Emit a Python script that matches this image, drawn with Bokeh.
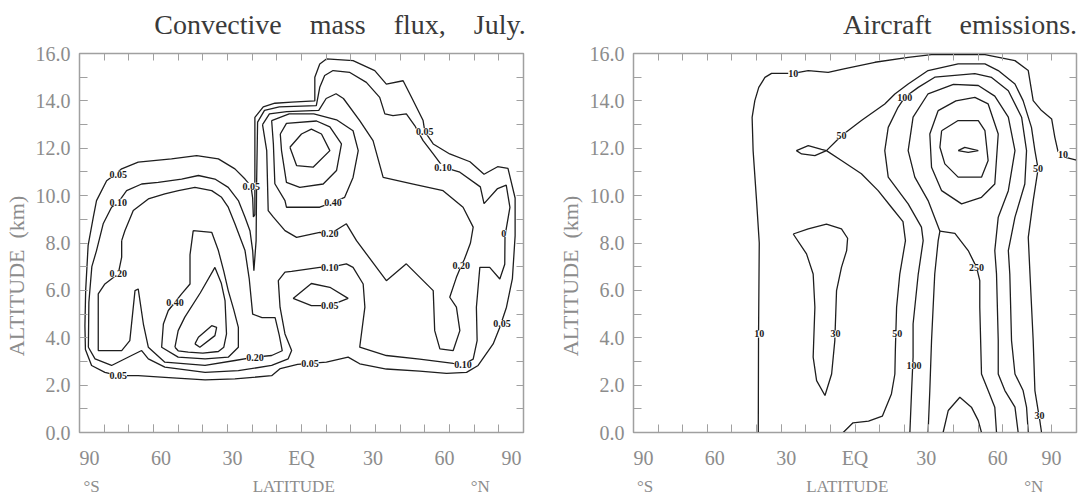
import math
from bokeh.plotting import figure
from bokeh.models import (ColumnDataSource, FixedTicker, LinearAxis, LabelSet, Range1d)
from bokeh.layouts import row
from bokeh.embed import file_html
from bokeh.resources import INLINE

NB = "\u00a0"

# ---------------- axes ----------------
X_MAJOR = [-90, -60, -30, 0, 30, 60, 90]
X_LABELS = ["90", "60", "30", "EQ", "30", "60", "90"]
X_MINOR = list(range(-90, 91, 10))
Y_MAJOR = [0, 2, 4, 6, 8, 10, 12, 14, 16]
Y_LABELS = ["0.0", "2.0", "4.0", "6.0", "8.0", "10.0", "12.0", "14.0", "16.0"]
Y_MINOR = list(range(0, 17))
# labels near the frame ends sit a little inward, as in the original plotter output
X_LABEL_PAD_LEFT = [4, 3, 2, 0, 0, 0, 0]
X_LABEL_PAD_RIGHT = [0, 0, 0, 0, 1, 2, 4]

TITLE_LEFT = "Convective" + NB * 4 + "mass" + NB * 4 + "flux," + NB * 4 + "July."
TITLE_RIGHT = "Aircraft" + NB * 4 + "emissions."
Y_TITLE = "ALTITUDE" + NB * 2 + "(km)" + NB * 12
X_TITLE = "\u00b0S" + NB * 36 + "LATITUDE" + NB * 32 + "\u00b0N" + NB * 7

# ---------------- convective mass flux contours (lat, km) ----------------
MF_005 = [[-86.5, 7.9], [-87.5, 6.0], [-87.8, 4.5], [-87.6, 3.5], [-85.1, 2.83], [-79.7, 2.54],
          [-74.3, 2.4], [-66.2, 2.4], [-55.4, 2.33], [-39.1, 2.22], [-27.0, 2.26], [-12.1, 2.4],
          [-8.6, 2.7], [-1.6, 2.88], [3.4, 2.92], [10.1, 2.97], [18.9, 3.18], [23.6, 2.9],
          [34.4, 2.68], [47.9, 2.59], [58.8, 2.5], [66.9, 2.54], [71.6, 2.83], [77.7, 3.74],
          [80.4, 4.44], [83.1, 5.29], [85.5, 6.5], [86.6, 8.3], [86.6, 9.9], [83.7, 11.15],
          [79.5, 11.22], [74.0, 10.9], [68.3, 11.43], [60.1, 11.76], [53.4, 12.18], [50.0, 12.7],
          [49.3, 13.17], [44.6, 14.15], [41.2, 14.85], [34.4, 14.71], [29.7, 15.28], [20.9, 15.7],
          [10.1, 15.77], [7.4, 15.56], [5.4, 15.0], [5.4, 14.0], [-4.0, 13.95], [-10.8, 13.9],
          [-15.5, 13.75], [-18.9, 13.3], [-18.9, 9.2], [-19.5, 9.1], [-19.8, 9.9], [-20.5, 10.4],
          [-22.9, 10.7], [-27.0, 11.13], [-33.7, 11.55], [-42.5, 11.69], [-52.7, 11.55],
          [-66.2, 11.41], [-72.9, 11.13], [-75.5, 10.9], [-79.0, 10.63], [-83.1, 9.79],
          [-84.4, 9.09], [-86.5, 7.9]]
MF_010 = [[-86.4, 3.6], [-86.2, 5.5], [-85.0, 7.0], [-83.1, 7.68], [-80.4, 8.81], [-77.0, 9.51],
          [-74.3, 9.72], [-70.9, 10.21], [-64.8, 10.49], [-58.1, 10.56], [-48.6, 10.7],
          [-41.8, 10.85], [-35.1, 10.7], [-29.7, 10.35], [-25.6, 9.79], [-22.9, 9.09],
          [-20.9, 8.52], [-19.8, 7.68], [-19.3, 6.83], [-18.4, 8.1], [-18.2, 10.5], [-17.8, 13.1],
          [-15.0, 13.6], [-9.0, 13.75], [6.0, 13.8], [7.4, 14.57], [9.4, 15.07], [12.8, 15.28],
          [19.6, 15.2], [26.3, 14.78], [31.7, 14.15], [33.8, 13.45], [37.1, 13.38], [42.5, 13.45],
          [45.9, 12.96], [49.3, 12.32], [53.4, 11.76], [57.4, 11.2], [64.2, 10.99], [72.5, 10.37],
          [74.0, 9.66], [79.5, 10.3], [83.0, 10.44], [84.5, 9.5], [82.5, 8.3], [82.4, 7.1],
          [80.4, 6.48], [76.3, 6.97], [72.3, 6.97], [70.9, 5.29], [71.2, 3.88], [69.6, 3.1],
          [65.5, 2.87], [61.5, 2.92], [47.9, 3.1], [34.4, 3.25], [23.6, 3.6], [25.7, 5.29],
          [25.0, 6.27], [20.9, 6.97], [18.2, 7.12], [11.5, 6.97], [7.4, 6.97], [-4.0, 6.8],
          [-6.7, 6.77], [-9.4, 6.41], [-8.7, 5.29], [-6.7, 4.16], [-4.0, 3.46], [-5.4, 3.11],
          [-12.1, 2.83], [-25.6, 2.61], [-39.1, 2.54], [-55.4, 2.76], [-62.1, 3.11],
          [-64.8, 3.46], [-68.9, 3.25], [-77.0, 2.83], [-83.7, 3.11], [-86.4, 3.6]]
MF_005_OVAL = [[-3.4, 5.66], [4.0, 6.29], [11.5, 6.13], [18.9, 5.66], [11.5, 5.36], [4.0, 5.36],
               [-3.4, 5.66]]
MF_020_S = [[-72.9, 8.1], [-71.6, 8.52], [-68.2, 9.37], [-62.1, 9.86], [-55.4, 10.07],
            [-49.9, 10.21], [-43.2, 10.35], [-36.4, 10.21], [-32.4, 9.93], [-29.7, 9.51],
            [-27.0, 8.81], [-22.9, 7.68], [-21.2, 6.5], [-19.8, 5.0], [-16.0, 4.85], [-10.7, 4.85],
            [-9.0, 4.1], [-7.8, 3.45], [-12.1, 3.25], [-18.9, 3.18], [-27.0, 3.04], [-39.1, 2.83],
            [-55.4, 2.97], [-62.1, 3.6], [-64.1, 4.58], [-66.2, 6.06], [-67.5, 5.99],
            [-69.6, 3.88], [-72.9, 3.46], [-82.4, 3.46], [-82.4, 5.85], [-79.7, 6.27],
            [-74.3, 6.7], [-72.9, 7.4], [-72.9, 8.1]]
MF_020_N = [[-15.8, 13.0], [-13.0, 13.45], [-6.0, 13.55], [7.0, 13.6], [10.0, 14.1], [14.0, 14.3],
            [17.0, 14.1], [23.6, 13.17], [29.0, 12.32], [33.1, 10.77], [45.3, 10.49],
            [57.4, 10.21], [65.5, 9.51], [69.6, 8.67], [68.5, 8.0], [66.0, 7.3], [64.8, 7.05],
            [62.8, 6.55], [60.1, 5.71], [62.8, 5.29], [64.2, 4.3], [61.5, 3.46], [56.1, 3.53],
            [54.0, 4.3], [53.4, 5.99], [42.5, 7.12], [34.4, 6.41], [22.3, 8.1], [18.2, 8.81],
            [11.5, 8.38], [7.4, 8.45], [-2.0, 8.24], [-6.7, 8.52], [-11.4, 9.09], [-13.5, 9.37],
            [-14.1, 11.9], [-15.8, 13.0]]
MF_040_S = [[-43.9, 8.52], [-36.4, 8.45], [-33.7, 7.68], [-31.5, 6.8], [-29.7, 5.99],
            [-27.5, 5.2], [-25.6, 4.44], [-25.6, 3.6], [-29.7, 3.18], [-39.1, 3.11], [-50.0, 3.18],
            [-56.7, 3.6], [-56.0, 4.58], [-54.0, 5.15], [-51.3, 5.5], [-48.6, 5.85], [-45.2, 6.27],
            [-45.2, 7.5], [-43.9, 8.52]]
MF_060_S = [[-51.3, 3.6], [-50.0, 4.3], [-47.3, 4.87], [-41.0, 5.9], [-35.1, 6.97], [-32.5, 6.3],
            [-31.0, 5.57], [-30.4, 4.16], [-31.5, 3.6], [-33.7, 3.42], [-40.0, 3.35],
            [-45.9, 3.39], [-50.0, 3.45], [-51.3, 3.6]]
MF_080_S = [[-43.2, 3.74], [-41.8, 4.02], [-36.4, 4.51], [-34.4, 4.44], [-35.1, 4.09],
            [-41.2, 3.6], [-43.2, 3.74]]
MF_040_N = [[-12.1, 13.17], [-5.0, 13.45], [5.0, 13.45], [14.2, 13.2], [20.9, 12.74],
            [23.0, 11.9], [20.9, 10.77], [17.5, 9.93], [12.8, 9.72], [7.4, 9.51], [-6.1, 9.51],
            [-6.7, 9.79], [-10.8, 10.5], [-11.4, 12.18], [-12.1, 13.17]]
MF_060_N = [[-8.6, 12.6], [-6.1, 13.05], [6.1, 13.15], [11.5, 12.9], [16.2, 12.18], [14.2, 11.06],
            [8.8, 10.49], [-0.7, 10.35], [-6.1, 10.56], [-8.1, 11.9], [-8.6, 12.6]]
MF_080_N = [[-4.7, 12.04], [0.0, 12.6], [4.0, 12.81], [8.1, 12.6], [11.5, 11.9], [4.7, 11.2],
            [-2.0, 11.27], [-4.7, 12.04]]

MF_LABEL_LAT = [-74.3, -74.3, -74.3, -74.3, -51.3, -18.9, -20.4, 50.0, 57.4, 12.8, 11.5, 11.5,
                11.5, 3.4, 64.8, 65.5, 81.3, 82.0]
MF_LABEL_ALT = [10.9, 9.72, 6.7, 2.4, 5.5, 3.18, 10.4, 12.7, 11.2, 9.72, 8.38, 6.97, 5.38, 2.92,
                7.05, 2.87, 4.6, 8.4]
MF_LABEL_TXT = ["0.05", "0.10", "0.20", "0.05", "0.40", "0.20", "0.05", "0.05", "0.10", "0.40",
                "0.20", "0.10", "0.05", "0.05", "0.20", "0.10", "0.05", "0"]

# ---------------- aircraft emission contours (lat, km) ----------------
AE_10 = [[-39.3, 0.0], [-39.2, 4.0], [-38.9, 8.0], [-40.0, 9.79], [-41.4, 11.9], [-41.8, 13.3],
         [-40.7, 14.01], [-39.1, 14.57], [-36.6, 14.99], [-33.9, 15.16], [-25.1, 15.16],
         [-19.0, 15.28], [-10.9, 15.2], [-4.5, 15.35], [8.1, 15.63], [21.6, 15.84], [31.1, 15.95],
         [52.8, 15.95], [65.0, 15.7], [70.4, 15.28], [72.4, 14.01], [75.8, 13.59], [79.9, 13.24],
         [81.2, 12.46], [82.5, 11.86], [86.0, 11.6], [90.0, 11.5]]
AE_50 = [[-4.8, 0.0], [-0.8, 0.41], [5.5, 0.48], [11.1, 0.69], [14.8, 1.63], [16.2, 2.47],
         [16.4, 3.5], [16.9, 5.29], [18.2, 6.69], [20.5, 8.1], [19.5, 8.9], [14.8, 9.51],
         [9.4, 10.21], [2.6, 10.92], [-5.5, 11.48], [-11.6, 11.9], [-16.3, 11.69], [-21.7, 11.76],
         [-23.8, 11.9], [-19.0, 12.11], [-13.6, 11.95], [-11.6, 11.9], [-5.5, 12.53],
         [2.6, 13.17], [12.1, 13.87], [16.2, 14.29], [21.6, 14.71], [29.7, 15.28], [41.9, 15.56],
         [52.8, 15.56], [58.2, 15.28], [65.0, 14.71], [68.3, 14.01], [71.7, 12.88], [73.1, 11.9],
         [74.4, 11.13], [72.4, 9.79], [70.4, 8.24], [71.1, 6.69], [72.4, 3.88], [73.1, 1.77],
         [74.4, 0.93], [75.1, 0.5], [75.8, 0.0]]
AE_30 = [[-25.1, 8.38], [-19.0, 8.6], [-11.6, 8.8], [-5.5, 8.6], [-3.0, 8.2], [-3.4, 7.68],
         [-5.5, 6.97], [-7.5, 5.99], [-8.2, 3.88], [-9.5, 2.47], [-12.2, 1.56], [-15.6, 2.19],
         [-17.0, 3.18], [-16.3, 5.29], [-17.0, 6.69], [-19.7, 7.54], [-25.1, 8.38]]
AE_100 = [[22.3, 0.0], [23.0, 1.77], [23.6, 3.18], [23.6, 4.58], [25.7, 6.69], [27.7, 8.1],
          [27.0, 8.67], [21.6, 9.65], [13.5, 10.78], [12.1, 11.9], [13.5, 12.88], [17.5, 13.73],
          [20.2, 14.15], [25.7, 14.57], [32.4, 15.0], [48.7, 15.15], [55.5, 14.99], [62.3, 14.43],
          [67.7, 13.31], [69.7, 11.9], [69.0, 10.49], [65.0, 9.09], [62.3, 7.68], [62.9, 6.69],
          [63.6, 3.88], [65.0, 2.47], [68.3, 1.77], [69.7, 1.07], [70.4, 0.0]]
AE_250 = [[29.7, 0.0], [30.4, 1.77], [31.1, 3.88], [32.4, 6.69], [33.8, 8.1], [34.5, 8.5],
          [29.7, 9.79], [24.3, 10.78], [21.6, 11.9], [23.6, 13.31], [29.7, 14.3], [40.0, 14.7],
          [50.1, 14.65], [56.8, 14.2], [62.3, 13.31], [65.0, 11.9], [62.3, 10.21], [58.2, 9.09],
          [56.8, 7.68], [57.5, 6.69], [58.2, 3.88], [58.2, 2.47], [60.9, 1.77], [65.0, 1.07],
          [66.3, 0.0]]
AE_250_B = [[34.5, 8.5], [40.6, 8.41], [46.0, 7.68], [49.4, 6.97], [50.7, 6.41], [50.7, 5.29],
            [51.4, 2.47], [54.1, 1.77], [56.8, 1.07], [57.5, 0.0]]
AE_500 = [[33.8, 13.59], [41.0, 14.0], [48.7, 14.15], [54.1, 13.87], [58.2, 12.6], [56.8, 10.49],
          [51.4, 9.93], [43.3, 9.65], [35.2, 10.21], [31.1, 11.2], [30.4, 12.6], [33.8, 13.59]]
AE_500_LOW = [[35.8, 0.0], [37.9, 0.93], [42.6, 1.49], [47.3, 1.07], [50.1, 0.5], [51.4, 0.0]]
AE_1000 = [[35.2, 12.74], [41.9, 13.17], [50.1, 13.17], [52.8, 12.74], [54.1, 11.48],
           [51.4, 10.78], [41.9, 10.78], [36.5, 11.34], [34.5, 12.04], [35.2, 12.74]]
AE_2000 = [[41.9, 11.9], [44.6, 12.04], [50.1, 11.9], [46.0, 11.83], [41.9, 11.9]]

AE_LABEL_LAT = [-25.1, -38.9, -5.5, 20.2, 84.5, 74.4, -7.9, 17.2, 24.0, 49.4, 75.0]
AE_LABEL_ALT = [15.16, 4.16, 12.53, 14.15, 11.75, 11.13, 4.16, 4.16, 2.83, 6.97, 0.72]
AE_LABEL_TXT = ["10", "10", "50", "100", "10", "50", "30", "50", "100", "250", "30"]

MF_CONTOURS = [MF_005, MF_010, MF_005_OVAL, MF_020_S, MF_020_N, MF_040_S, MF_060_S, MF_080_S,
               MF_040_N, MF_060_N, MF_080_N]
AE_CONTOURS = [AE_10, AE_50, AE_30, AE_100, AE_250, AE_250_B, AE_500, AE_500_LOW, AE_1000,
               AE_2000]

SERIF = "Liberation Serif"
GREY = "#8c8c8c"
FRAME = "#a0a0a0"


def make_panel(title, title_pad, contours, lab_lat, lab_alt, lab_txt,
               border_left, border_right, fw):
    p = figure(width=border_left + fw + border_right, height=498,
               x_range=Range1d(-90, 90), y_range=Range1d(0, 16),
               output_backend="svg", toolbar_location=None,
               min_border_left=border_left, min_border_right=border_right,
               min_border_top=53, min_border_bottom=66)
    p.frame_width = fw
    p.frame_height = 379
    p.grid.visible = False
    p.background_fill_color = "white"
    p.border_fill_color = "white"
    p.outline_line_color = FRAME
    p.outline_line_width = 1.5

    xa = p.xaxis[0]
    ya = p.yaxis[0]
    xa.ticker = FixedTicker(ticks=X_MAJOR, minor_ticks=X_MINOR)
    xa.major_label_overrides = {t: NB * a + l + NB * b for t, l, a, b in
                                zip(X_MAJOR, X_LABELS, X_LABEL_PAD_LEFT, X_LABEL_PAD_RIGHT)}
    ya.ticker = FixedTicker(ticks=Y_MAJOR, minor_ticks=Y_MINOR)
    ya.major_label_overrides = {t: l for t, l in zip(Y_MAJOR, Y_LABELS)}
    xa.axis_label = X_TITLE
    ya.axis_label = Y_TITLE
    for ax, st, fs, ls in ((xa, 14, "17px", 5), (ya, 9, "22px", 4)):
        ax.axis_line_color = FRAME
        ax.major_tick_line_color = FRAME
        ax.minor_tick_line_color = FRAME
        ax.major_tick_in = 8
        ax.major_tick_out = 0
        ax.minor_tick_in = 8
        ax.minor_tick_out = 0
        ax.major_label_text_font = SERIF
        ax.major_label_text_font_size = "20px"
        ax.major_label_text_color = GREY
        ax.major_label_standoff = st
        ax.axis_label_text_font = SERIF
        ax.axis_label_text_font_size = fs
        ax.axis_label_text_font_style = "normal"
        ax.axis_label_text_color = GREY
        ax.axis_label_standoff = ls

    # mirrored ticks on the top and right edges (minor ticks only, so no labels);
    # the panel heading is carried by the top edge, flush with the frame's right side
    top = LinearAxis(ticker=FixedTicker(ticks=[], minor_ticks=X_MINOR))
    right = LinearAxis(ticker=FixedTicker(ticks=[], minor_ticks=Y_MINOR))
    for ax in (top, right):
        ax.axis_line_color = FRAME
        ax.minor_tick_line_color = FRAME
        ax.minor_tick_in = 7
        ax.minor_tick_out = 0
        ax.major_label_standoff = 0
    top.axis_label = NB * title_pad + title
    top.axis_label_text_font = SERIF
    top.axis_label_text_font_size = "28px"
    top.axis_label_text_font_style = "normal"
    top.axis_label_text_color = "#3a3a3a"
    top.axis_label_standoff = 14
    p.add_layout(top, "above")
    p.add_layout(right, "right")

    xs = [[pt[0] for pt in c] for c in contours]
    ys = [[pt[1] for pt in c] for c in contours]
    p.multi_line(xs=xs, ys=ys, line_color="#1e1e1e", line_width=1.3)

    src = ColumnDataSource(dict(x=lab_lat, y=lab_alt, t=lab_txt))
    p.add_layout(LabelSet(x="x", y="y", text="t", source=src,
                          text_align="center", text_baseline="middle",
                          text_font="Liberation Sans", text_font_size="10px",
                          text_font_style="bold", text_color="#1a1a1a",
                          background_fill_color="white"))
    return p


p1 = make_panel(TITLE_LEFT, 11, MF_CONTOURS, MF_LABEL_LAT, MF_LABEL_ALT, MF_LABEL_TXT,
                78, 18, 444)
p2 = make_panel(TITLE_RIGHT, 30, AE_CONTOURS, AE_LABEL_LAT, AE_LABEL_ALT, AE_LABEL_TXT,
                92, 5, 443)

layout = row(p1, p2)
open("out.html", "w").write(file_html(layout, INLINE))
